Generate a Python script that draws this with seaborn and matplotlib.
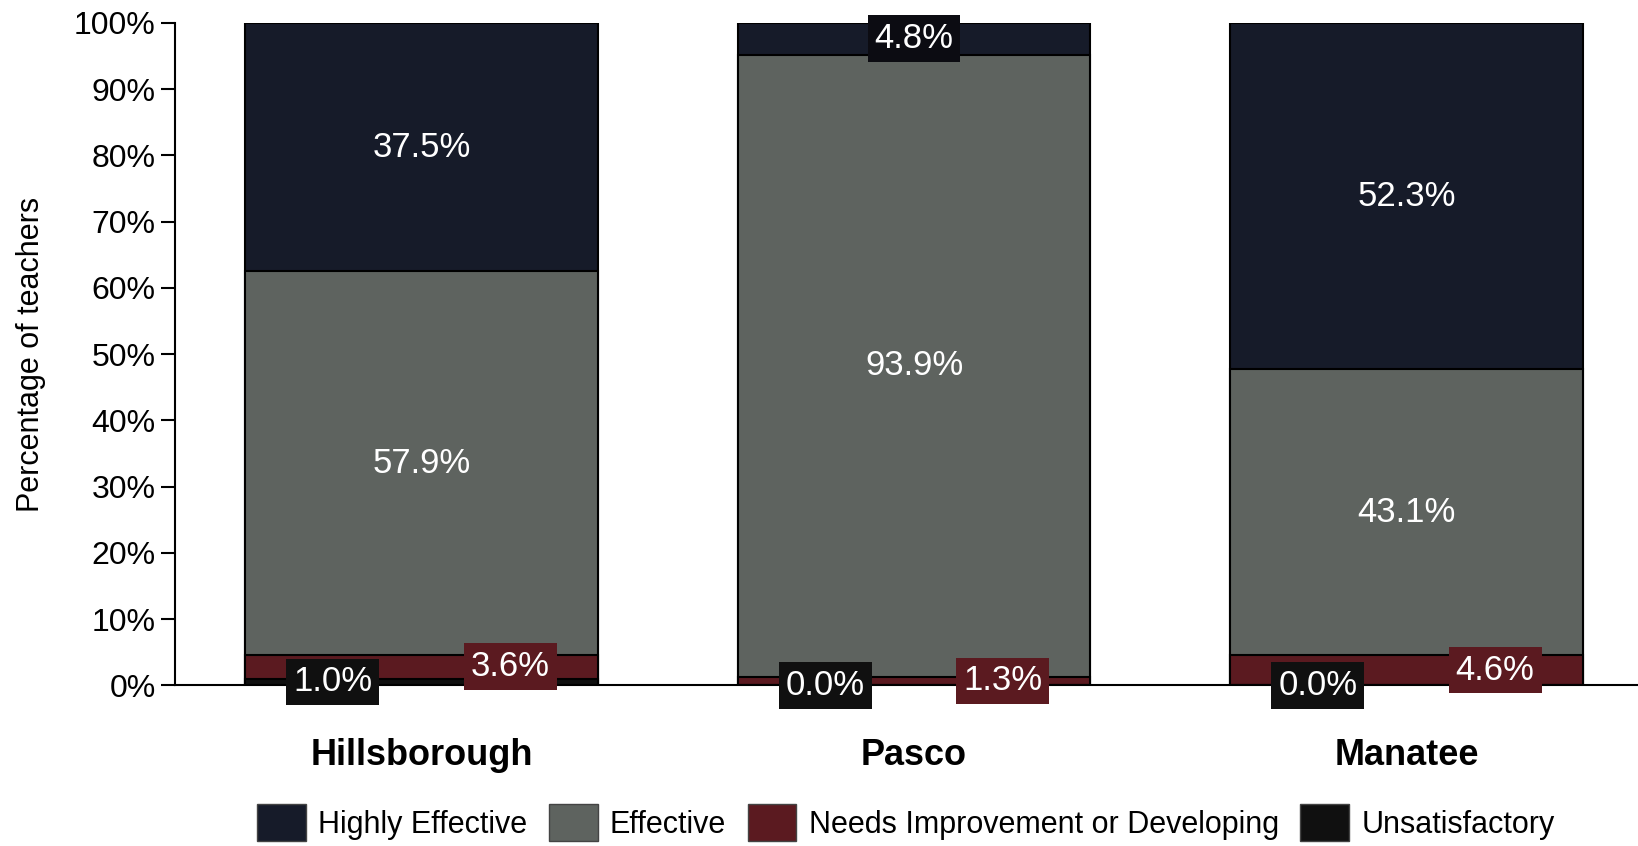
import numpy as np
import pandas as pd
import matplotlib
matplotlib.use("Agg")
import matplotlib.pyplot as plt
from matplotlib.patches import Patch
import seaborn as sns

districts = ["Hillsborough", "Pasco", "Manatee"]
unsatisfactory = [1.0, 0.0, 0.0]
needs_improvement = [3.6, 1.3, 4.6]
effective = [57.9, 93.9, 43.1]
highly_effective = [37.5, 4.8, 52.3]

levels = ["Highly Effective", "Effective", "Needs Improvement or Developing", "Unsatisfactory"]
colors = {"Highly Effective": "#161b29", "Effective": "#5e635f",
          "Needs Improvement or Developing": "#5b1a20", "Unsatisfactory": "#101010"}

sns.set_style("white")
plt.rcParams["font.family"] = ["Liberation Sans", "DejaVu Sans"]

df = pd.DataFrame({"district": districts,
                   "Unsatisfactory": unsatisfactory,
                   "Needs Improvement or Developing": needs_improvement,
                   "Effective": effective,
                   "Highly Effective": highly_effective})

# cumulative tops, bottom-up order
order_up = ["Unsatisfactory", "Needs Improvement or Developing", "Effective", "Highly Effective"]
cum = df[order_up].cumsum(axis=1)

fig = plt.figure(figsize=(16.38, 8.46), dpi=100)
ax = fig.add_axes([0.107, 0.19, 0.893, 0.783])

# draw tallest first so shorter stacks overlay
for lvl in reversed(order_up):
    sns.barplot(x=df["district"], y=cum[lvl], color=colors[lvl], saturation=1,
                width=0.716, edgecolor="black", linewidth=1.5, ax=ax)

# segment labels
for i in range(len(districts)):
    bottoms = cum.iloc[i] - df[order_up].iloc[i]
    for lvl in order_up:
        val = df[lvl].iloc[i]
        mid = bottoms[lvl] + val / 2
        if lvl == "Unsatisfactory":
            x, fc = i - 0.18, colors[lvl]
        elif lvl == "Needs Improvement or Developing":
            x, fc = i + 0.18, colors[lvl]
        elif lvl == "Highly Effective" and val < 10:
            x, fc = i, "#0c0c12"
        else:
            x, fc = i, None
        kw = {}
        if fc is not None:
            kw["bbox"] = dict(boxstyle="square,pad=0.2", fc=fc, ec="none")
        ax.text(x, mid, f"{val:.1f}%", ha="center", va="center",
                color="white", fontsize=25, **kw)

ax.set_xlim(-0.5, 2.47)
ax.set_ylim(0, 100)
ax.set_yticks(np.arange(0, 101, 10))
ax.set_yticklabels([f"{t}%" for t in range(0, 101, 10)], fontsize=23, color="black")
ax.set_ylabel("Percentage of teachers", fontsize=22, labelpad=20, color="black")
ax.set_xlabel("")
ax.tick_params(axis="y", left=True, direction="out", length=10, width=1.5, color="black", pad=4)
ax.tick_params(axis="x", length=0, pad=38)
for lbl in ax.get_xticklabels():
    lbl.set_fontsize(26)
    lbl.set_fontweight("bold")
    lbl.set_color("black")

for s in ["top", "right"]:
    ax.spines[s].set_visible(False)
for s in ["left", "bottom"]:
    ax.spines[s].set_color("black")
    ax.spines[s].set_linewidth(1.5)

handles = [Patch(facecolor=colors[l], edgecolor="#444444", label=l) for l in levels]
leg = fig.legend(handles=handles, loc="lower center", bbox_to_anchor=(0.553, -0.027), ncol=4,
                 frameon=False, fontsize=22, handlelength=1.6, handleheight=1.5,
                 columnspacing=0.7, handletextpad=0.4)
for t in leg.get_texts():
    t.set_color("black")

fig.savefig("out.png", dpi=100)
